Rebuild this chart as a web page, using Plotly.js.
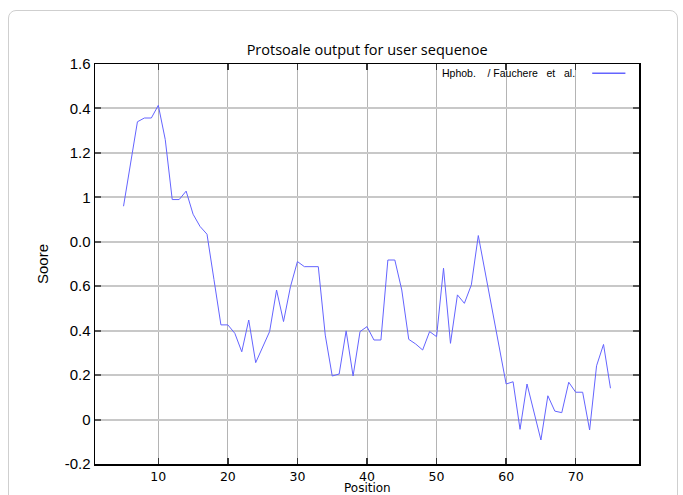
<!DOCTYPE html>
<html>
<head>
<meta charset="utf-8">
<script src="https://cdn.plot.ly/plotly-3.0.1.min.js"></script>
<style>
  html, body { margin: 0; padding: 0; background: #fff; overflow: hidden; }
  #frame { position: absolute; left: 8px; top: 10px; width: 670px; height: 500px;
           border: 1px solid #cfcfcf; border-radius: 8px; box-sizing: border-box; }
  #chart { position: absolute; left: 0; top: 0; width: 683px; height: 495px; }
</style>
</head>
<body>
<div id="frame"></div>
<div id="chart"></div>
<script>
// ---- data ----
var positions = [5,6,7,8,9,10,11,12,13,14,15,16,17,18,19,20,21,22,23,24,25,26,27,28,29,30,
  31,32,33,34,35,36,37,38,39,40,41,42,43,44,45,46,47,48,49,50,51,52,53,54,55,56,57,58,59,60,
  61,62,63,64,65,66,67,68,69,70,71,72,73,74,75];
var scores = [0.96,1.15,1.34,1.357,1.357,1.414,1.26,0.99,0.99,1.028,0.924,0.869,0.834,0.63,0.426,0.426,
  0.388,0.305,0.448,0.256,0.325,0.396,0.583,0.441,0.598,0.711,0.688,0.688,0.688,0.38,0.196,0.205,
  0.399,0.196,0.396,0.418,0.358,0.358,0.718,0.718,0.583,0.361,0.340,0.313,0.396,0.373,0.681,0.343,
  0.561,0.523,0.606,0.828,0.66,0.50,0.34,0.160,0.170,-0.044,0.160,0.03,-0.092,0.107,0.038,0.031,
  0.168,0.123,0.123,-0.047,0.242,0.338,0.141];
var yTickVals = [1.6,1.4,1.2,1.0,0.8,0.6,0.4,0.2,0,-0.2];
var yTickText = ['1.6','0.4','1.2','1','0.0','0.6','0.4','0.2','0','-0.2'];
var xTickVals = [10,20,30,40,50,60,70];
var xTickText = ['10','20','30','40','50','60','70'];
var seriesName = 'Hphob.\u00a0\u00a0\u00a0\u00a0/ Fauchere\u00a0\u00a0\u00a0et\u00a0\u00a0\u00a0al.';
var chartTitle = 'Protsoale output for user sequenoe';
var xTitle = 'Position';
var yTitle = 'Soore';
var lineColor = '#6464ff';

var trace = {
  x: positions, y: scores, type: 'scatter', mode: 'lines',
  line: { color: lineColor, width: 1 }, showlegend: false, hoverinfo: 'skip'
};

var layout = {
  width: 683, height: 495,
  margin: { l: 95, r: 44, t: 64, b: 31, pad: 0 },
  paper_bgcolor: 'rgba(0,0,0,0)', plot_bgcolor: '#ffffff',
  title: { text: chartTitle, x: 0.5375, xanchor: 'center', y: 0.9, yanchor: 'middle',
           font: { family: 'Open Sans, sans-serif', size: 14.5, color: '#000' } },
  xaxis: {
    range: [0.9, 79.1], tickmode: 'array', tickvals: xTickVals, ticktext: xTickText,
    showgrid: true, gridcolor: '#b4b4b4', gridwidth: 1, zeroline: false,
    showline: true, linecolor: '#000', linewidth: 1.5, mirror: 'ticks',
    ticks: 'inside', ticklen: 6, tickcolor: '#333', tickwidth: 1.5,
    tickfont: { family: 'DejaVu Sans, sans-serif', size: 12.5, color: '#000' },
    fixedrange: true
  },
  yaxis: {
    range: [-0.2, 1.6], tickmode: 'array', tickvals: yTickVals, ticktext: yTickText,
    showgrid: true, gridcolor: '#c8c8c8', gridwidth: 2, zeroline: false,
    showline: true, linecolor: '#000', linewidth: 1.5, mirror: 'ticks',
    ticks: 'inside', ticklen: 6, tickcolor: '#555', tickwidth: 2,
    tickfont: { family: 'Liberation Sans, Arial, sans-serif', size: 15, color: '#000' },
    title: { text: yTitle, standoff: 12, font: { family: 'Liberation Sans, Arial, sans-serif', size: 15, color: '#000' } },
    fixedrange: true
  },
  annotations: [
    { xref: 'paper', yref: 'paper', x: 0.886, y: 0.977, xanchor: 'right', yanchor: 'middle',
      text: seriesName, showarrow: false,
      font: { family: 'Liberation Sans, Arial, sans-serif', size: 10.5, color: '#000' } },
    { xref: 'paper', yref: 'paper', x: 0.5, y: 0, xanchor: 'center', yanchor: 'top',
      yshift: -16, borderpad: 0, text: xTitle, showarrow: false,
      font: { family: 'DejaVu Sans, sans-serif', size: 12, color: '#000' } }
  ],
  shapes: [
    { type: 'line', xref: 'paper', yref: 'paper', x0: 0.914, x1: 0.975, y0: 0.977, y1: 0.977,
      line: { color: lineColor, width: 1.5 } }
  ]
};

Plotly.newPlot('chart', [trace], layout, { displayModeBar: false, staticPlot: true });
</script>
</body>
</html>
